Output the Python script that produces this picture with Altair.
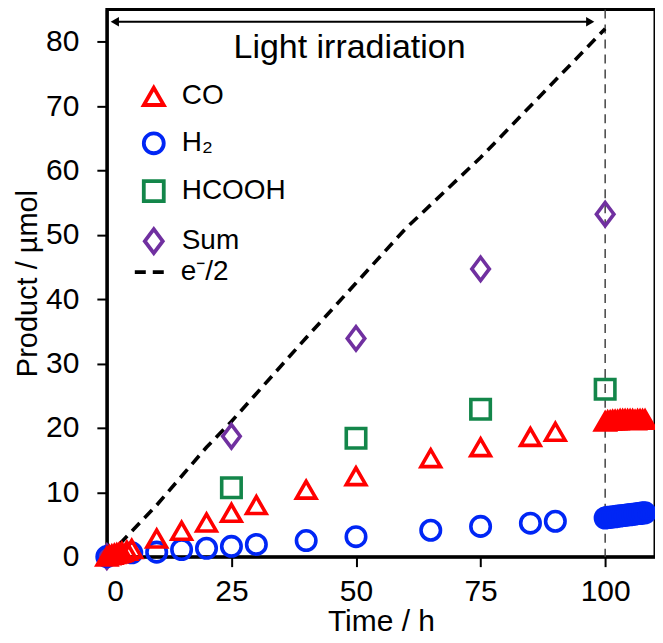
import altair as alt
import pandas as pd

# ---- data ----
co_t = [0, 0.5, 1, 1.5, 2, 2.5, 3, 4, 5, 10, 15, 20, 25, 30, 40, 50, 65, 75, 85, 90,
        100, 100.5, 101, 101.5, 102, 102.5, 103, 103.5, 104, 104.5, 105, 105.5, 106, 106.5, 107, 107.5, 108]
co_v = [0, 0.2, 0.3, 0.4, 0.5, 0.6, 0.7, 0.9, 1.2, 2.8, 4.0, 5.3, 6.8, 8.0, 10.4, 12.5, 15.3, 17.0, 18.6, 19.4,
        21.0, 21.1, 21.1, 21.2, 21.2, 21.2, 21.3, 21.3, 21.3, 21.3, 21.3, 21.3, 21.2, 21.3, 21.3, 21.3, 21.3]
h2_t = [0, 5, 10, 15, 20, 25, 30, 40, 50, 65, 75, 85, 90,
        100, 100.5, 101, 101.5, 102, 102.5, 103, 103.5, 104, 104.5, 105, 105.5, 106, 106.5, 107, 107.5, 108]
h2_v = [0, 0.6, 0.7, 1.1, 1.3, 1.6, 1.9, 2.5, 3.1, 4.1, 4.7, 5.2, 5.5,
        6.0, 6.1, 6.1, 6.2, 6.2, 6.3, 6.3, 6.4, 6.4, 6.5, 6.5, 6.6, 6.6, 6.7, 6.7, 6.8, 6.8]
hcooh_t = [25, 50, 75, 100]
hcooh_v = [10.7, 18.4, 22.9, 26.0]
sum_t = [0, 25, 50, 75, 100]
sum_v = [0, 18.7, 33.9, 44.7, 53.2]
e_t = [0, 2, 10, 20, 25, 40, 50, 60, 75, 90, 100]
e_v = [0, 1.5, 8.0, 17.0, 21.0, 34.0, 42.5, 51.0, 62.0, 74.0, 82.0]

series_names = ["CO", "H₂", "HCOOH", "Sum"]
series_colors = ["#FF0000", "#0026F5", "#13864A", "#7030A0"]
series_shapes = ["triangle-up", "circle", "square", "M0,-1.2L0.9,0L0,1.2L-0.9,0Z"]
line_name = "e⁻/2"

arrow_t = [1.6, 97]
arrow_v = [83.1, 83.1]
label_text = "Light irradiation"
label_t = 48.7
label_v = 79.0
irr_end = 100

FONT = "Liberation Sans"

rows = []
for name, ts, vs in [("CO", co_t, co_v), ("H₂", h2_t, h2_v),
                     ("HCOOH", hcooh_t, hcooh_v), ("Sum", sum_t, sum_v)]:
    for t, v in zip(ts, vs):
        rows.append({"t": t, "v": v, "series": name})
pts = pd.DataFrame(rows)
line_df = pd.DataFrame({"t": e_t, "v": e_v, "s": [line_name] * len(e_t)})
arrow_df = pd.DataFrame({"t": arrow_t, "v": arrow_v,
                         "shape": ["triangle-left", "triangle-right"]})
label_df = pd.DataFrame({"t": [label_t], "v": [label_v], "txt": [label_text]})

xs = alt.Scale(domain=[0, 110], nice=False, zero=False)
ys = alt.Scale(domain=[0, 85], nice=False)

x_enc = alt.X("t:Q", scale=xs, title="Time / h",
              axis=alt.Axis(values=[0, 25, 50, 75, 100], grid=False))
y_enc = alt.Y("v:Q", scale=ys, title="Product / µmol",
              axis=alt.Axis(values=list(range(0, 81, 10)), grid=False))

vline = alt.Chart(pd.DataFrame({"t": [irr_end]})).mark_rule(
    color="#444444", strokeWidth=1.5, strokeDash=[9, 6]
).encode(x=alt.X("t:Q", scale=xs))

eline = alt.Chart(line_df).mark_line(color="black", strokeWidth=3.6).encode(
    x=x_enc, y=y_enc,
    strokeDash=alt.StrokeDash("s:N", scale=alt.Scale(domain=[line_name], range=[[11, 7]]),
                              legend=alt.Legend(orient="none", legendX=26, legendY=246,
                                                title=None, symbolType="stroke",
                                                symbolSize=900, symbolStrokeWidth=3.6,
                                                symbolStrokeColor="black",
                                                labelFontSize=28, labelFont=FONT,
                                                labelColor="black", labelOffset=14))
)

leg = alt.Legend(orient="none", legendX=33, legendY=73, title=None,
                 symbolSize=400, symbolStrokeWidth=3.8,
                 labelFontSize=28, labelFont=FONT, labelColor="black",
                 labelOffset=14, rowPadding=12, symbolOpacity=1)

points = alt.Chart(pts).mark_point(filled=False, strokeWidth=3.6, size=380, opacity=1).encode(
    x=x_enc, y=y_enc,
    color=alt.Color("series:N", scale=alt.Scale(domain=series_names, range=series_colors), legend=leg),
    shape=alt.Shape("series:N", scale=alt.Scale(domain=series_names, range=series_shapes), legend=leg),
    order=alt.Order("series:N", sort="descending"),
)

arrow_line = alt.Chart(arrow_df).mark_line(color="black", strokeWidth=2).encode(
    x=alt.X("t:Q", scale=xs), y=alt.Y("v:Q", scale=ys))
arrow_heads = alt.Chart(arrow_df).mark_point(filled=True, color="black", size=90, opacity=1).encode(
    x=alt.X("t:Q", scale=xs), y=alt.Y("v:Q", scale=ys),
    shape=alt.Shape("shape:N", scale=None, legend=None))

label = alt.Chart(label_df).mark_text(fontSize=34, font=FONT, color="black").encode(
    x=alt.X("t:Q", scale=xs), y=alt.Y("v:Q", scale=ys), text="txt:N")

chart = alt.layer(vline, eline, points, arrow_line, arrow_heads, label).resolve_legend(
    color="shared", shape="shared"
).properties(
    width=549, height=548,
    autosize=alt.AutoSizeParams(type="none"),
    padding={"left": 99, "top": 1, "right": 0, "bottom": 84},
).configure_view(
    stroke="black", strokeWidth=3
).configure_axis(
    domainColor="black", domainWidth=3, tickColor="black", tickWidth=2, tickSize=10,
    labelFont=FONT, labelFontSize=30, labelColor="black",
    titleFont=FONT, titleFontSize=30, titleColor="black", titleFontWeight="normal",
).configure_axisX(labelPadding=10, titlePadding=0).configure_axisY(
    labelPadding=18, titlePadding=3, titleFontSize=29)

chart.save("out.html", embed_options={"renderer": "svg", "actions": False})
